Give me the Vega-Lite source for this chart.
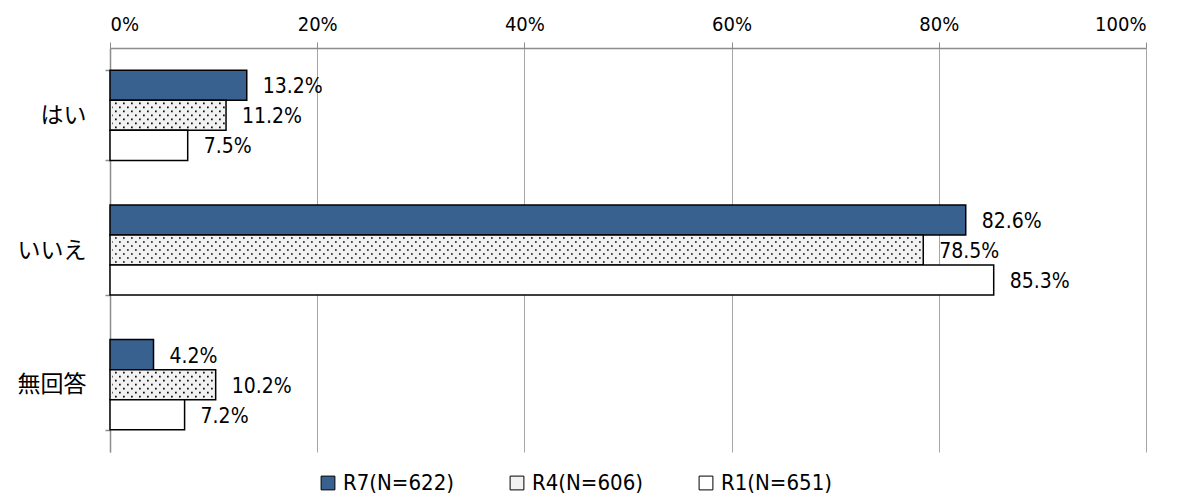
{
  "$schema": "https://vega.github.io/schema/vega-lite/v6.json",
  "autosize": "none",
  "padding": {"left": 110, "top": 48, "right": 36, "bottom": 48},
  "width": 1036,
  "height": 404,
  "background": "white",
  "data": {
    "values": [
      {"answer": "はい", "survey": "R7(N=622)", "share": 0.132},
      {"answer": "はい", "survey": "R4(N=606)", "share": 0.112},
      {"answer": "はい", "survey": "R1(N=651)", "share": 0.075},
      {"answer": "いいえ", "survey": "R7(N=622)", "share": 0.826},
      {"answer": "いいえ", "survey": "R4(N=606)", "share": 0.785},
      {"answer": "いいえ", "survey": "R1(N=651)", "share": 0.853},
      {"answer": "無回答", "survey": "R7(N=622)", "share": 0.042},
      {"answer": "無回答", "survey": "R4(N=606)", "share": 0.102},
      {"answer": "無回答", "survey": "R1(N=651)", "share": 0.072}
    ]
  },
  "encoding": {
    "y": {
      "field": "answer",
      "type": "nominal",
      "sort": ["はい", "いいえ", "無回答"],
      "scale": {"paddingInner": 0.33, "paddingOuter": 0.165},
      "axis": {
        "title": null,
        "orient": "left",
        "domainColor": "#8c8c8c",
        "domainWidth": 1.5,
        "tickBand": "extent",
        "tickColor": "#8c8c8c",
        "tickSize": 5,
        "tickWidth": 1.5,
        "labelFont": "Noto Sans CJK JP",
        "labelFontSize": 23,
        "labelColor": "#000000",
        "labelPadding": 19,
        "grid": false
      }
    },
    "x": {
      "field": "share",
      "type": "quantitative",
      "scale": {"domain": [0, 1], "nice": false},
      "axis": {
        "title": null,
        "orient": "top",
        "values": [0, 0.2, 0.4, 0.6, 0.8, 1],
        "format": "%",
        "grid": true,
        "gridColor": "#a6a6a6",
        "gridWidth": 1,
        "domainColor": "#8c8c8c",
        "domainWidth": 1.5,
        "tickColor": "#8c8c8c",
        "tickSize": 6,
        "labelFont": "DejaVu Sans Condensed",
        "labelFontSize": 20,
        "labelColor": "#000000",
        "labelPadding": 8
      }
    }
  },
  "layer": [
    {
      "mark": {"type": "bar", "stroke": "#000000", "strokeWidth": 1.5},
      "encoding": {
        "yOffset": {
          "field": "survey",
          "type": "nominal",
          "sort": ["R7(N=622)", "R4(N=606)", "R1(N=651)"],
          "scale": {"paddingInner": 0, "paddingOuter": 0}
        },
        "fill": {
          "field": "survey",
          "type": "nominal",
          "scale": {
            "domain": ["R7(N=622)", "R4(N=606)", "R1(N=651)"],
            "range": ["#386190", "#f2f2f2", "#ffffff"]
          },
          "legend": {
            "title": null,
            "orient": "none",
            "direction": "horizontal",
            "legendX": 207,
            "legendY": 424,
            "symbolType": "square",
            "symbolSize": 190,
            "symbolStrokeColor": "#000000",
            "symbolStrokeWidth": 1,
            "symbolOpacity": 1,
            "labelFont": "DejaVu Sans Condensed",
            "labelFontSize": 22,
            "labelColor": "#000000",
            "labelOffset": 4,
            "columnPadding": 52
          }
        }
      }
    },
    {
      "transform": [{"filter": "datum.survey === 'R4(N=606)'"}],
      "mark": {"type": "rule", "yOffset": -12, "stroke": "#000000", "strokeWidth": 1.6, "strokeDash": [1.6, 6.4], "strokeDashOffset": -3},
      "encoding": {"x": {"datum": 0.002}, "x2": {"field": "share"}}
    },
    {
      "transform": [{"filter": "datum.survey === 'R4(N=606)'"}],
      "mark": {"type": "rule", "yOffset": -8, "stroke": "#000000", "strokeWidth": 1.6, "strokeDash": [1.6, 6.4], "strokeDashOffset": -7},
      "encoding": {"x": {"datum": 0.002}, "x2": {"field": "share"}}
    },
    {
      "transform": [{"filter": "datum.survey === 'R4(N=606)'"}],
      "mark": {"type": "rule", "yOffset": -4, "stroke": "#000000", "strokeWidth": 1.6, "strokeDash": [1.6, 6.4], "strokeDashOffset": -3},
      "encoding": {"x": {"datum": 0.002}, "x2": {"field": "share"}}
    },
    {
      "transform": [{"filter": "datum.survey === 'R4(N=606)'"}],
      "mark": {"type": "rule", "yOffset": 0, "stroke": "#000000", "strokeWidth": 1.6, "strokeDash": [1.6, 6.4], "strokeDashOffset": -7},
      "encoding": {"x": {"datum": 0.002}, "x2": {"field": "share"}}
    },
    {
      "transform": [{"filter": "datum.survey === 'R4(N=606)'"}],
      "mark": {"type": "rule", "yOffset": 4, "stroke": "#000000", "strokeWidth": 1.6, "strokeDash": [1.6, 6.4], "strokeDashOffset": -3},
      "encoding": {"x": {"datum": 0.002}, "x2": {"field": "share"}}
    },
    {
      "transform": [{"filter": "datum.survey === 'R4(N=606)'"}],
      "mark": {"type": "rule", "yOffset": 8, "stroke": "#000000", "strokeWidth": 1.6, "strokeDash": [1.6, 6.4], "strokeDashOffset": -7},
      "encoding": {"x": {"datum": 0.002}, "x2": {"field": "share"}}
    },
    {
      "transform": [{"filter": "datum.survey === 'R4(N=606)'"}],
      "mark": {"type": "rule", "yOffset": 12, "stroke": "#000000", "strokeWidth": 1.6, "strokeDash": [1.6, 6.4], "strokeDashOffset": -3},
      "encoding": {"x": {"datum": 0.002}, "x2": {"field": "share"}}
    },
    {
      "mark": {"type": "text", "align": "left", "baseline": "middle", "dx": 16, "dy": 2, "font": "DejaVu Sans Condensed", "fontSize": 21, "fill": "#000000"},
      "encoding": {
        "yOffset": {
          "field": "survey",
          "type": "nominal",
          "sort": ["R7(N=622)", "R4(N=606)", "R1(N=651)"],
          "scale": {"paddingInner": 0, "paddingOuter": 0}
        },
        "text": {"field": "share", "type": "quantitative", "format": ".1%"}
      }
    }
  ],
  "config": {
    "view": {"stroke": null}
  }
}
